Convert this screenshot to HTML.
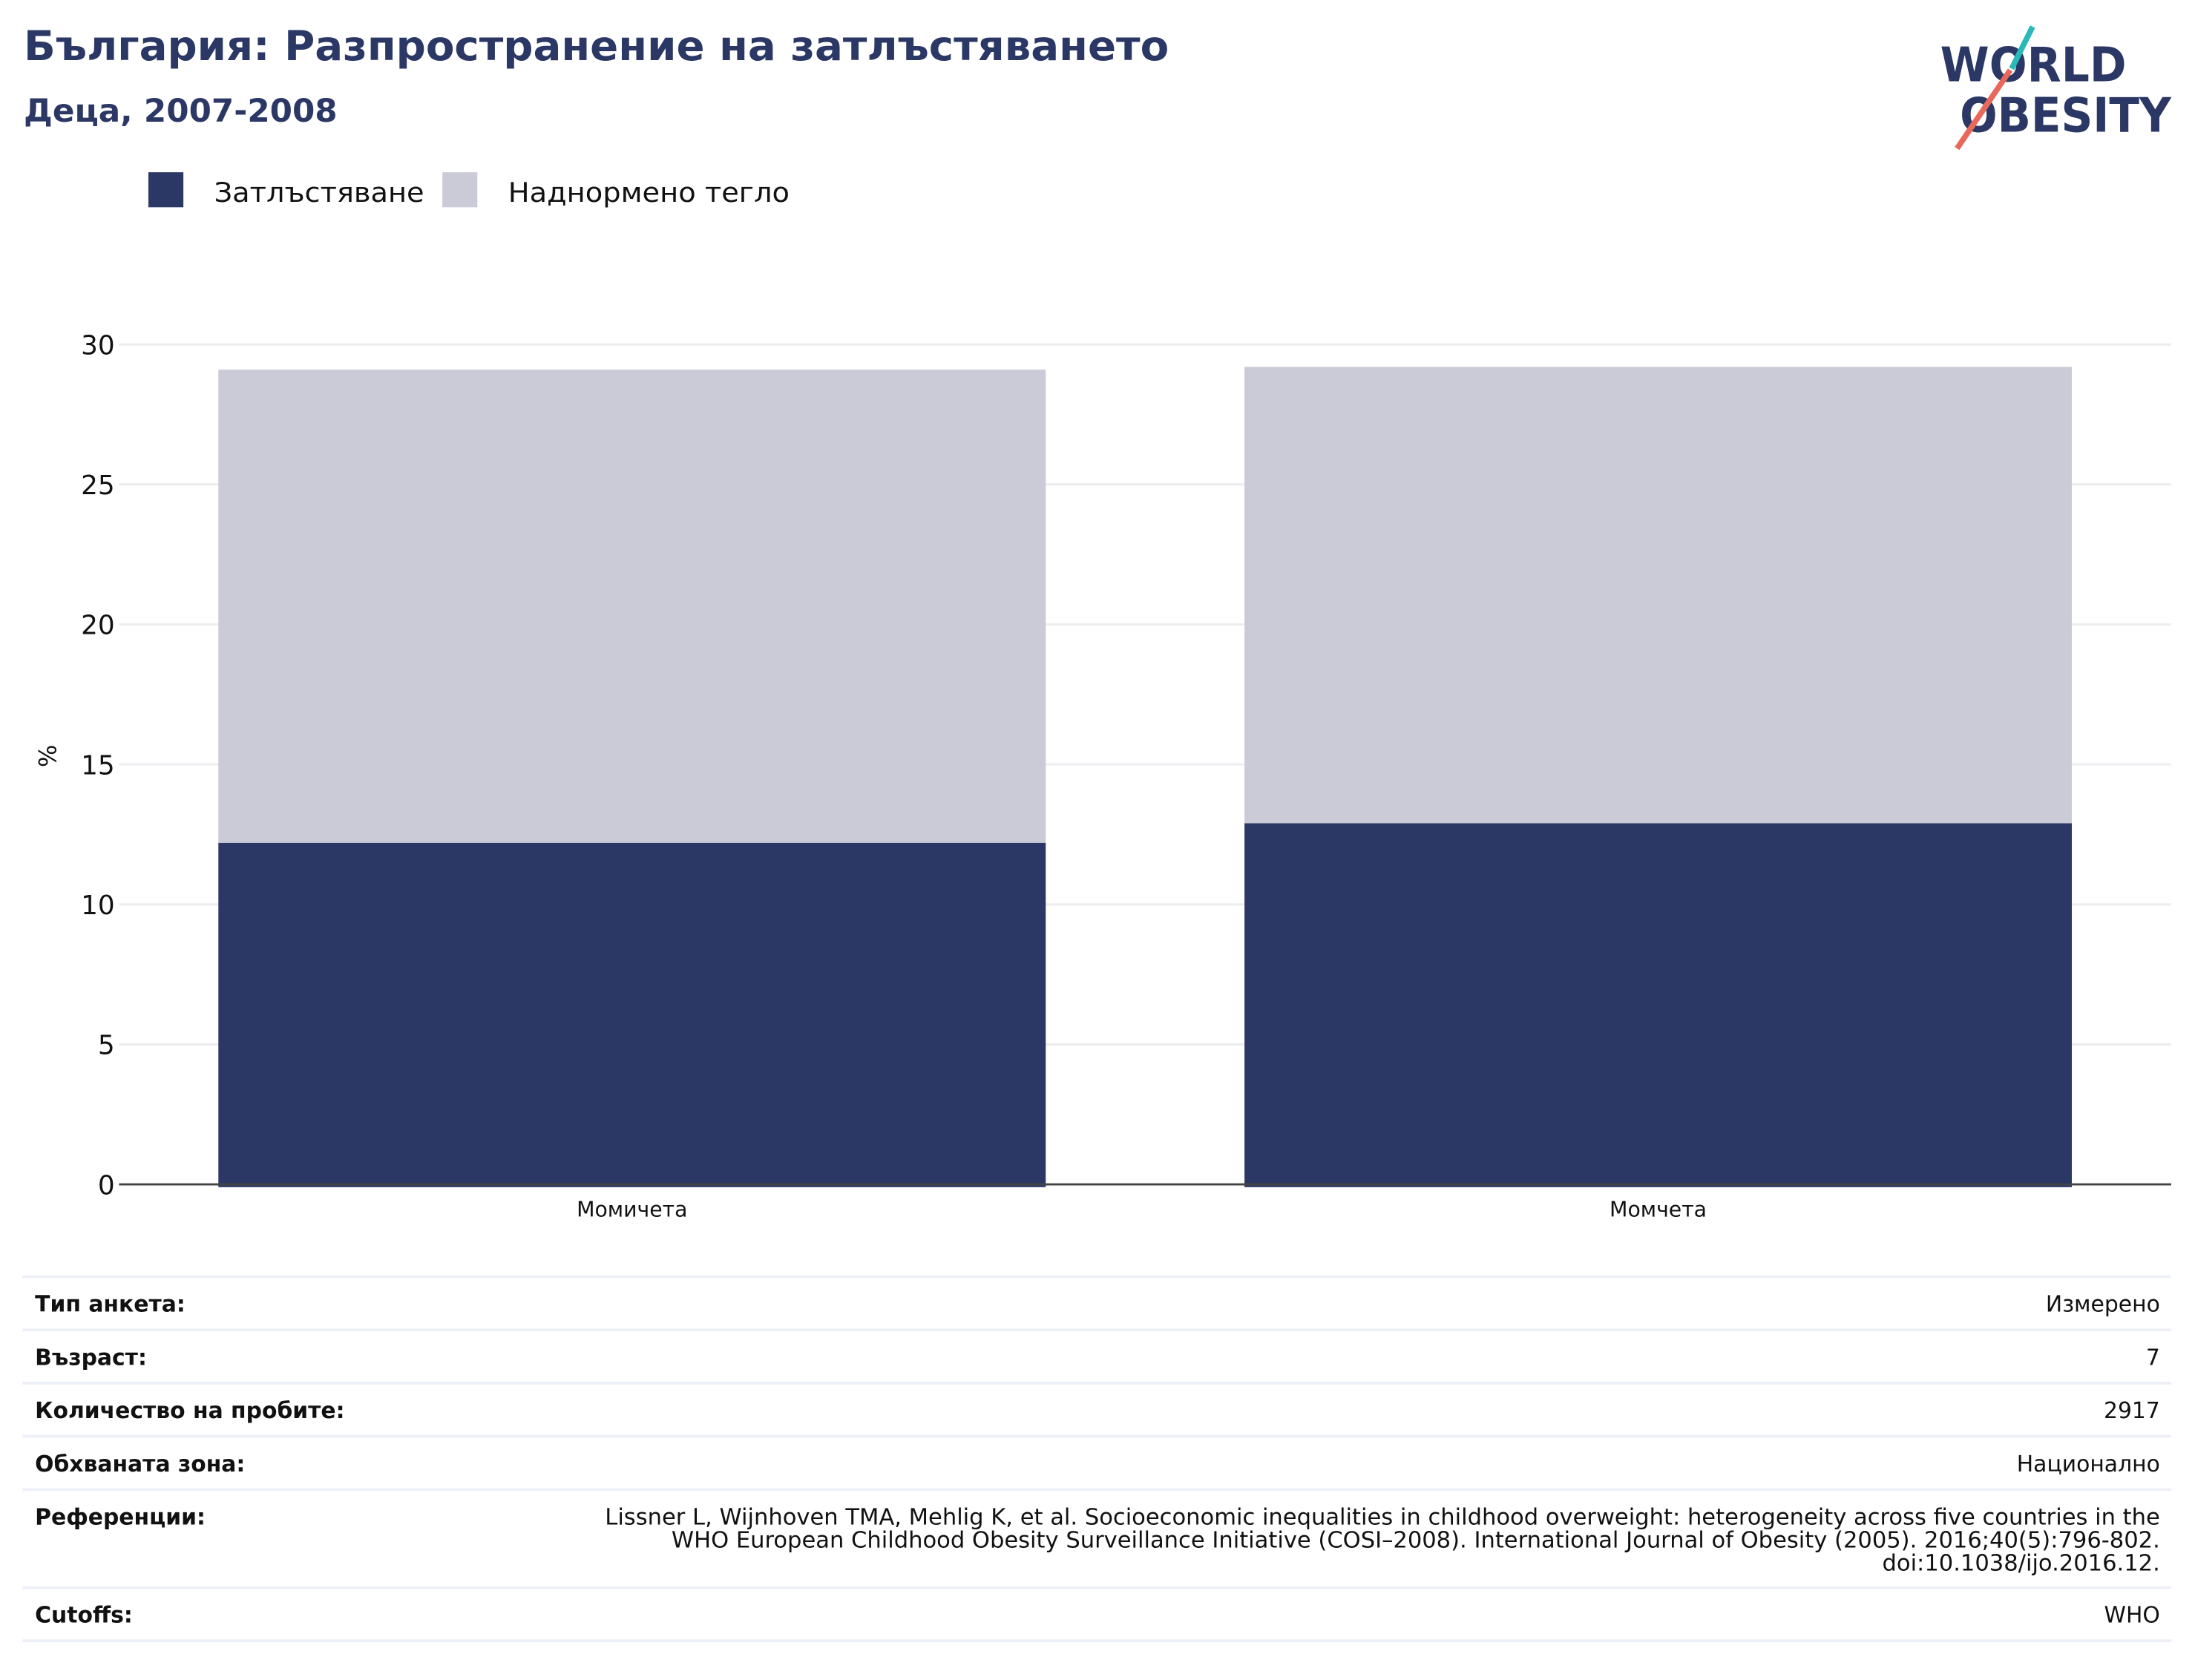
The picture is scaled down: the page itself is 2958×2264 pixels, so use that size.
<!DOCTYPE html>
<html><head><meta charset="utf-8"><style>
html,body{margin:0;padding:0;background:#fff;width:2958px;height:2264px;overflow:hidden}
svg{display:block}
text{font-family:"DejaVu Sans","Liberation Sans",sans-serif}
</style></head><body>
<svg id="chart" width="2958" height="2264" viewBox="0 0 1568 1200" xmlns="http://www.w3.org/2000/svg">
<text x="17" y="43" font-size="29.5" font-weight="bold" fill="#2b3764" textLength="818" lengthAdjust="spacingAndGlyphs">България: Разпространение на затлъстяването</text>
<text x="17" y="87" font-size="22.5" font-weight="bold" fill="#2b3764" textLength="224" lengthAdjust="spacingAndGlyphs">Деца, 2007-2008</text>
<g>
<text x="1386" y="58" font-size="34" font-weight="bold" fill="#2b3764" font-family="Liberation Sans" textLength="133" lengthAdjust="spacingAndGlyphs">WORLD</text>
<text x="1400" y="94" font-size="34" font-weight="bold" fill="#2b3764" font-family="Liberation Sans" textLength="151" lengthAdjust="spacingAndGlyphs">OBESITY</text>
<line x1="1452" y1="19" x2="1437" y2="49" stroke="#2bb8b8" stroke-width="4"/>
<line x1="1436" y1="50" x2="1398" y2="106" stroke="#e8695c" stroke-width="4"/>
</g>
<g>
<rect x="106" y="123" width="25" height="25" fill="#2b3764"/>
<text x="153" y="144" font-size="19.5" fill="#111" textLength="150" lengthAdjust="spacingAndGlyphs">Затлъстяване</text>
<rect x="316" y="123" width="25" height="25" fill="#cacbd7"/>
<text x="363" y="144" font-size="19.5" fill="#111" textLength="201" lengthAdjust="spacingAndGlyphs">Наднормено тегло</text>
</g>
<text transform="translate(40,540) rotate(-90)" text-anchor="middle" font-size="17" fill="#111">%</text>
<g id="plot"></g>
<g id="table"></g>
</svg>
<script>
const categories = ["Момичета", "Момчета"];
const obesity = [12.2, 12.9];
const overweight = [16.9, 16.3];
const yTicks = [0, 5, 10, 15, 20, 25, 30];
const rowLabels = ["Тип анкета:", "Възраст:", "Количество на пробите:", "Обхваната зона:", "Референции:", "Cutoffs:"];
const rowValues = [["Измерено"], ["7"], ["2917"], ["Национално"],
  ["Lissner L, Wijnhoven TMA, Mehlig K, et al. Socioeconomic inequalities in childhood overweight: heterogeneity across five countries in the",
   "WHO European Childhood Obesity Surveillance Initiative (COSI–2008). International Journal of Obesity (2005). 2016;40(5):796-802.",
   "doi:10.1038/ijo.2016.12."], ["WHO"]];

const NS = "http://www.w3.org/2000/svg";
const plot = document.getElementById('plot');
const x0 = 85, x1 = 1551, yBase = 846, yTop = 246, yMax = 30;
const y = v => yBase - (v / yMax) * (yBase - yTop);
const band = (x1 - x0) / categories.length;
const barW = 591;
const bx = i => x0 + band * i + (band - barW) / 2;
function mk(tag, attrs, parent) { const e = document.createElementNS(NS, tag); for (const k in attrs) e.setAttribute(k, attrs[k]); parent.appendChild(e); return e; }

yTicks.forEach(t => {
  if (t > 0) {
    const g = mk('line', {x1: x0, x2: x1, y1: y(t), y2: y(t), stroke: '#ececf0', 'stroke-width': 1.5}, plot);
    
    
  }
  const l = mk('text', {x: 82, y: y(t) + 7, 'text-anchor': 'end', 'font-size': 19, fill: '#111'}, plot);
  l.textContent = t;
  
  
});
categories.forEach((c, i) => {
  const ob = mk('rect', {x: bx(i), y: y(obesity[i]), width: barW, height: yBase - y(obesity[i]) + 2, fill: '#2b3764'}, plot);
  
  
  const tot = obesity[i] + overweight[i];
  const ow = mk('rect', {x: bx(i), y: y(tot), width: barW, height: y(obesity[i]) - y(tot), fill: '#cacbd7'}, plot);
  
  
  const t = mk('text', {x: bx(i) + barW / 2, y: 869, 'text-anchor': 'middle', 'font-size': 15, fill: '#111'}, plot);
  t.textContent = c;
  
  
});
const ax = mk('line', {x1: x0, x2: x1, y1: yBase, y2: yBase, stroke: '#444', 'stroke-width': 1.5}, plot);



const table = document.getElementById('table');
let ty = 912;
mk('line', {x1: 16, x2: 1551, y1: ty, y2: ty, stroke: '#eef0f8', 'stroke-width': 2}, table);
rowLabels.forEach((lab, i) => {
  const lines = rowValues[i];
  const h = lines.length > 1 ? 70 : 38;
  const lt = mk('text', {x: 25, y: ty + 25, 'font-size': 15.8, 'font-weight': 'bold', fill: '#111'}, table);
  lt.textContent = lab;
  
  
  lines.forEach((ln, j) => {
    const vt = mk('text', {x: 1543, y: ty + 25 + j * 16.5, 'text-anchor': 'end', 'font-size': lines.length > 1 ? 16.2 : 15.8, fill: '#111'}, table);
    vt.textContent = ln;
    
    
  });
  ty += h;
  mk('line', {x1: 16, x2: 1551, y1: ty, y2: ty, stroke: '#eef0f8', 'stroke-width': 2}, table);
});
</script>
</body></html>
